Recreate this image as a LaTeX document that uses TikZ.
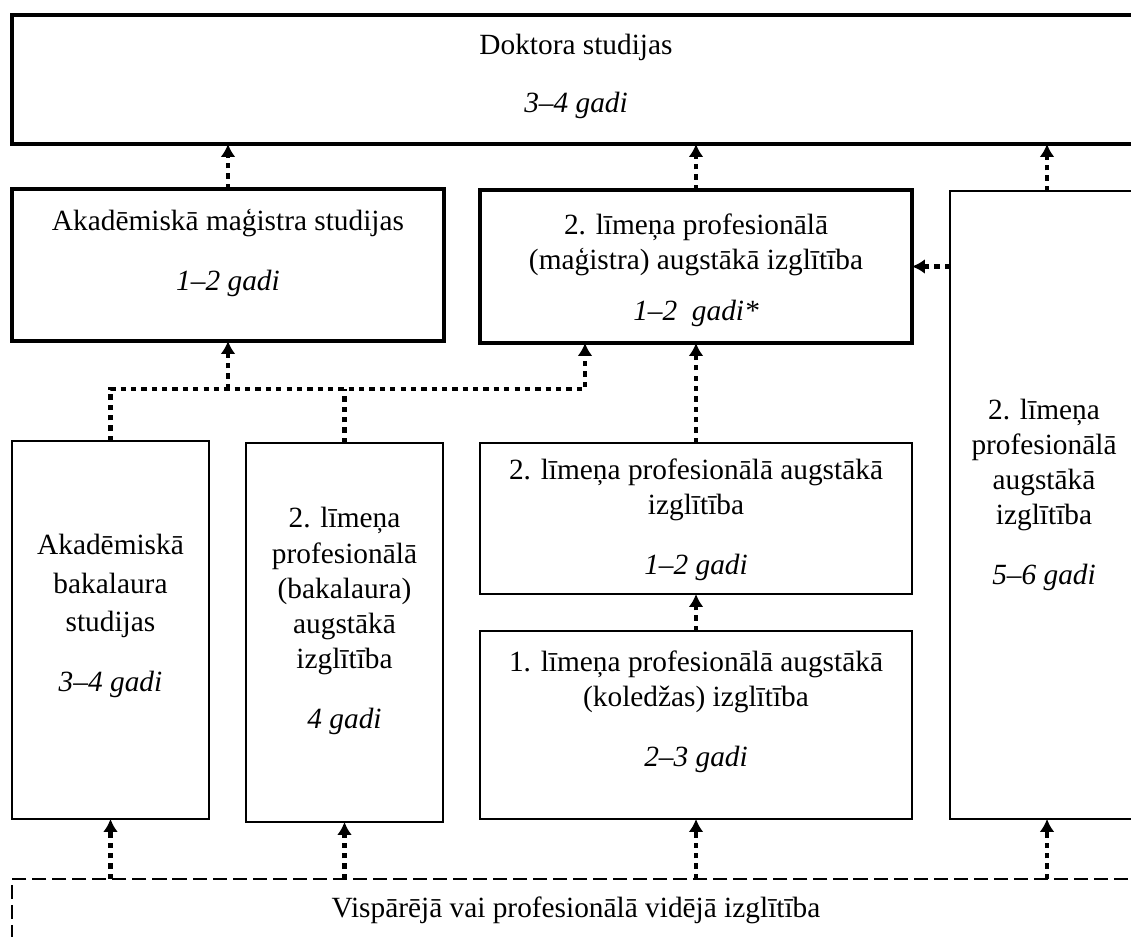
\documentclass[tikz,border=0pt]{standalone}
\usepackage{fontspec}
\setmainfont{Liberation Serif}
\usetikzlibrary{positioning}
\usetikzlibrary{calc}
\usetikzlibrary{arrows.meta}

\tikzset{
  box/.style={draw, rectangle, inner sep=0pt, outer sep=0pt},
  thickbox/.style={box, line width=2.45pt},
  magbox/.style={box, line width=2.1pt},
  thinbox/.style={box, line width=1.5pt},
  basebox/.style={box, line width=0.85pt, dash pattern=on 8pt off 3.4pt},
  txt/.style={align=center, inner sep=0pt},
  dots/.style={line width=2.5pt, dash pattern=on 3pt off 2.9pt},
  dotarrow/.style={dots, -{Latex[length=7.4pt,width=8.5pt]}}
}

\begin{document}
\begin{tikzpicture}[x=0.02cm,y=-0.02cm,every node/.style={font=\fontsize{16.7}{20}\selectfont}]
\useasboundingbox (0,0) rectangle (1131,936);
\clip (0,0) rectangle (1131,936);

% boxes
\node[thickbox, minimum width=22.56cm, minimum height=2.58cm](dok) at (576,79.5){};
\node[magbox, minimum width=8.64cm, minimum height=3.04cm](akmag) at (228,265){};
\node[magbox, minimum width=8.64cm, minimum height=3.06cm](pmag) at (696,266.5){};
\node[thinbox, minimum width=3.88cm, minimum height=12.56cm](tall) at (1047,505){};
\node[thinbox, minimum width=3.94cm, minimum height=7.56cm](akbak) at (110.5,630){};
\node[thinbox, minimum width=3.94cm, minimum height=7.58cm](profbak) at (344.5,632.5){};
\node[thinbox, minimum width=8.64cm, minimum height=3.02cm](plim2) at (696,518.5){};
\node[thinbox, minimum width=8.64cm, minimum height=3.76cm](kol) at (696,725){};
\node[basebox, minimum width=22.56cm, minimum height=1.24cm](vid) at (576,910){Vispārējā vai profesionālā vidējā izglītība};

% texts
\node[txt](dokT) at (576,76){Doktora studijas\\[13pt]\textit{3–4 gadi}};
\node[txt](akmagT) at (228,253){Akadēmiskā maģistra studijas\\[14pt]\textit{1–2 gadi}};
\node[txt](pmagT) at (696,270){2. līmeņa profesionālā\\(maģistra) augstākā izglītība\\[9pt]\textit{1–2~~gadi*}};
\node[txt](tallT) at (1044,495){2. līmeņa\\profesionālā\\augstākā\\izglītība\\[14pt]\textit{5–6 gadi}};
\node[txt](akbakT) at (110.5,616){Akadēmiskā\\[2pt]bakalaura\\[2pt]studijas\\[14pt]\textit{3–4 gadi}};
\node[txt](profbakT) at (344.5,621){2. līmeņa\\profesionālā\\(bakalaura)\\augstākā\\izglītība\\[14pt]\textit{4 gadi}};
\node[txt](plim2T) at (696,519.5){2. līmeņa profesionālā augstākā\\izglītība\\[14pt]\textit{1–2 gadi}};
\node[txt](kolT) at (696,712){1. līmeņa profesionālā augstākā\\(koledžas) izglītība\\[14pt]\textit{2–3 gadi}};

\coordinate (jr) at (585,389);

\path
(akmag.north) edge[dotarrow] (akmag.north |- dok.south)
(pmag.north) edge[dotarrow] (pmag.north |- dok.south)
(tall.north) edge[dotarrow] (tall.north |- dok.south)
(tall.west |- pmag.east) edge[dotarrow] (pmag.east)
(plim2.north) edge[dotarrow] (pmag.south)
(kol.north) edge[dotarrow] (plim2.south)
(vid.north -| akbak.south) edge[dotarrow] (akbak.south)
(vid.north -| profbak.south) edge[dotarrow] (profbak.south)
(vid.north -| kol.south) edge[dotarrow] (kol.south)
(vid.north -| tall.south) edge[dotarrow] (tall.south);

\draw[dotarrow] (akbak.north) |- (jr) -- (jr |- pmag.south);
\draw[dots] (profbak.north) -- (profbak.north |- jr);
\draw[dotarrow] (akmag.south |- jr) -- (akmag.south);
\end{tikzpicture}
\end{document}
